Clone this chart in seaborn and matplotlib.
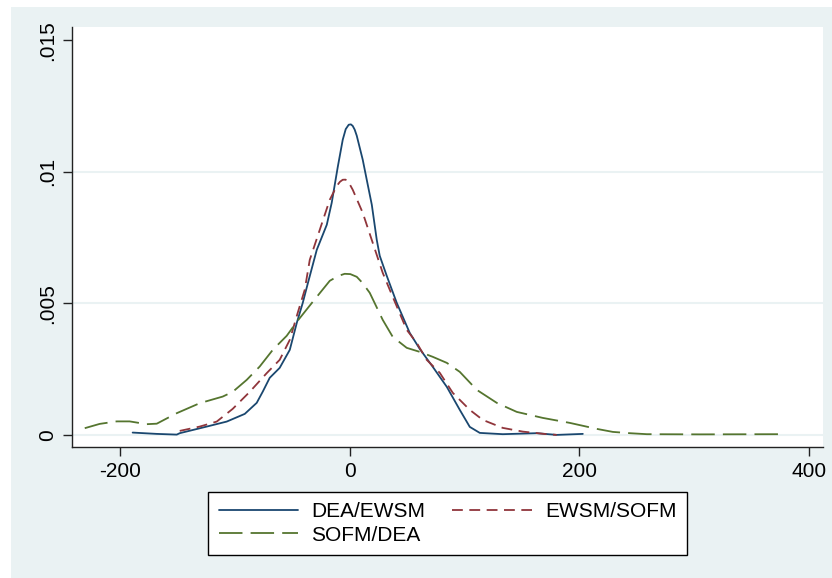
import numpy as np
import pandas as pd
import matplotlib
matplotlib.use("Agg")
import matplotlib.pyplot as plt
from matplotlib.patches import Rectangle
import seaborn as sns

# kernel density curves
dea_ewsm_x = [-189.0, -168.0, -150.6, -148.0, -124.5, -107.1, -91.4, -81.0, -75.7, -69.7,
              -61.0, -52.2, -46.1, -40.9, -36.6, -28.7, -20.0, -15.7, -10.4, -6.1,
              -3.5, -0.9, 1.0, 2.6, 4.3, 6.1, 11.3, 14.8, 19.2, 23.5, 26.1, 32.2, 40.9,
              52.2, 60.9, 72.3, 84.5, 95.8, 104.5, 113.2, 133.2, 162.8, 180.2, 202.9]
dea_ewsm_y = [0.000088, 0.000038, 0.000011, 0.000065, 0.000316, 0.000506, 0.000798, 0.001217, 0.001646, 0.002167,
              0.002547, 0.003232, 0.004258, 0.005019, 0.005741, 0.007034, 0.007984, 0.008821, 0.010190, 0.011216,
              0.011620, 0.011786, 0.011800, 0.011740, 0.011600, 0.011369, 0.010457, 0.009695, 0.008745, 0.007414,
              0.006806, 0.006045, 0.005019,
              0.003878, 0.003270, 0.002585, 0.001825, 0.000951, 0.000304, 0.000076, 0.000027, 0.000065, 0.0, 0.000038]

ewsm_sofm_x = [-148.0, -130.6, -115.8, -101.9, -87.1, -72.3, -61.0, -52.2, -45.3, -39.2,
               -34.8, -26.1, -17.4, -11.3, -8.5, -6.1, -3.8, -1.7, 2.6, 11.3, 20.0, 28.7,
               37.4, 49.6, 58.3, 67.0, 78.4, 89.7, 104.5, 115.8, 133.2, 150.6, 171.5, 180.2]
ewsm_sofm_y = [0.000152, 0.000316, 0.000506, 0.000989, 0.001635, 0.002346, 0.002852, 0.003612, 0.004638, 0.005513,
               0.006654, 0.007794, 0.008935, 0.009460, 0.009620, 0.009695, 0.009700, 0.009657, 0.009315, 0.008440,
               0.007300, 0.006159,
               0.005247, 0.003992, 0.003498, 0.002852, 0.002357, 0.001597, 0.000951, 0.000570, 0.000266, 0.000125,
               0.000027, 0.0]

sofm_dea_x = [-230.7, -217.7, -202.9, -191.6, -176.8, -168.0, -150.6, -130.6, -110.6, -101.9,
              -89.7, -78.4, -67.0, -54.9, -46.1, -32.2, -17.4, -10.0, -4.4, 0.5, 6.1, 11.0, 17.4,
              28.7, 37.4, 49.6, 60.9, 72.3, 84.5, 95.8, 110.6, 128.0, 145.4,
              168.0, 191.6, 215.1, 229.0, 243.8, 258.6, 304.7, 377.0]
sofm_dea_y = [0.000255, 0.000418, 0.000513, 0.000513, 0.000407, 0.000426, 0.000825, 0.001205, 0.001456, 0.001635,
              0.002091, 0.002597, 0.003232, 0.003764, 0.004296, 0.005057, 0.005855, 0.006040, 0.006121, 0.006110,
              0.006007, 0.005780, 0.005399,
              0.004372, 0.003726, 0.003308, 0.003156, 0.002966, 0.002737, 0.002395, 0.001711, 0.001217, 0.000874,
              0.000646, 0.000456, 0.000228, 0.000114, 0.000065, 0.000027, 0.00002, 0.000027]

series_names = ["DEA/EWSM", "EWSM/SOFM", "SOFM/DEA"]
x_ticks = [-200, 0, 200, 400]
x_tick_labels = ["-200", "0", "200", "400"]
y_ticks = [0, 0.005, 0.01, 0.015]
y_tick_labels = ["0", ".005", ".01", ".015"]

df = pd.concat([
    pd.DataFrame({"x": dea_ewsm_x, "y": dea_ewsm_y, "series": series_names[0]}),
    pd.DataFrame({"x": ewsm_sofm_x, "y": ewsm_sofm_y, "series": series_names[1]}),
    pd.DataFrame({"x": sofm_dea_x, "y": sofm_dea_y, "series": series_names[2]}),
])

sns.set_theme(style="white")
plt.rcParams["font.family"] = ["Liberation Sans", "DejaVu Sans"]

bg = "#EAF2F3"
fig = plt.figure(figsize=(8.32, 5.78), dpi=100)
fig.patch.set_facecolor("white")
fig.patches.append(Rectangle((11 / 832, 0), 1, 1 - 7 / 578, transform=fig.transFigure,
                             facecolor=bg, edgecolor="none", zorder=-10))
ax = fig.add_axes([72 / 832, 1 - 447 / 578, (823 - 72) / 832, (447 - 27) / 578])
ax.set_facecolor("white")

palette = {"DEA/EWSM": "#1A476F", "EWSM/SOFM": "#90353B", "SOFM/DEA": "#55752F"}
dashes = {"DEA/EWSM": "", "EWSM/SOFM": (6, 3.6), "SOFM/DEA": (13, 4.5)}
sns.lineplot(data=df, x="x", y="y", hue="series", style="series", palette=palette,
             dashes=dashes, sort=False, linewidth=1.3, ax=ax)
for ln in ax.lines:
    ln.set_solid_joinstyle("round")
    ln.set_dash_joinstyle("round")

ax.set_xlim(-241.8, 412)
ax.set_ylim(-0.00046, 0.0155)
ax.set_xticks(x_ticks)
ax.set_xticklabels(x_tick_labels)
ax.set_yticks(y_ticks)
ax.set_yticklabels(y_tick_labels, rotation=90, va="center")
ax.set_xlabel("")
ax.set_ylabel("")

ax.grid(axis="y", color=bg, linewidth=1.5)
ax.get_ygridlines()[-1].set_visible(False)
ax.set_axisbelow(True)
for s in ["top", "right"]:
    ax.spines[s].set_visible(False)
for s in ["left", "bottom"]:
    ax.spines[s].set_color("#222222")
    ax.spines[s].set_linewidth(1.0)
ax.tick_params(axis="both", which="major", direction="out", length=6.5, width=1.0,
               color="#222222", labelsize=15, labelcolor="black", pad=4,
               left=True, bottom=True)

# legend filled row by row like Stata
handles, labels = ax.get_legend_handles_labels()
lookup = dict(zip(labels, handles))
order = ["DEA/EWSM", "SOFM/DEA", "EWSM/SOFM"]
ax.get_legend().remove()
leg = ax.legend([lookup[k] for k in order], order, loc="center",
                bbox_to_anchor=(0.538, 0.0943), bbox_transform=fig.transFigure,
                ncol=2, frameon=True, fontsize=15, handlelength=3.8,
                handletextpad=0.65, columnspacing=1.3, labelspacing=0.2,
                borderpad=0.5, fancybox=False, framealpha=1)
leg.get_frame().set_edgecolor("black")
leg.get_frame().set_linewidth(1.0)
for t in leg.get_texts():
    t.set_color("black")

fig.savefig("out.png", dpi=100, facecolor=fig.get_facecolor())
